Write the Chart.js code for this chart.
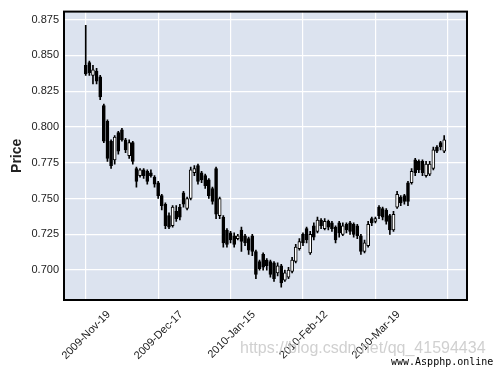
<!DOCTYPE html>
<html>
<head>
<meta charset="utf-8">
<script src="https://cdn.jsdelivr.net/npm/chart.js@4.4.1/dist/chart.umd.min.js"></script>
<style>
  html, body { margin: 0; padding: 0; background: #fff; }
  #wrap { position: relative; width: 493px; height: 369px; overflow: hidden; }
  canvas { display: block; }
  .wm1 { position: absolute; left: 240px; top: 339px; font: 16px "Liberation Sans", Arial, sans-serif; color: rgba(200,200,200,0.85); white-space: nowrap; }
  .wm2 { position: absolute; left: 391px; top: 356px; font: 10px "DejaVu Sans Mono", monospace; color: #000; white-space: nowrap; }
</style>
</head>
<body>
<div id="wrap">
  <canvas id="ohlcChart" width="493" height="369"></canvas>
  <div class="wm1">https://blog.csdn.net/qq_41594434</div>
  <div class="wm2">www.Aspphp.online</div>
</div>
<script>
// 값은 그림에서 눈으로 읽은 것 (bar index 0..99)
const opens = [
  0.843, 0.845, 0.836, 0.839, 0.835, 0.815, 0.804, 0.790, 0.777, 0.796,
  0.798, 0.791, 0.780, 0.789, 0.771, 0.766, 0.770, 0.769, 0.768, 0.765,
  0.761, 0.752, 0.746, 0.738, 0.731, 0.741, 0.744, 0.754, 0.743, 0.750,
  0.768, 0.773, 0.768, 0.766, 0.763, 0.757, 0.771, 0.738, 0.737, 0.728,
  0.726, 0.724, 0.722, 0.728, 0.724, 0.722, 0.724, 0.713, 0.706, 0.711,
  0.707, 0.706, 0.705, 0.698, 0.703, 0.693, 0.695, 0.699, 0.706, 0.715,
  0.725, 0.729, 0.712, 0.731, 0.727, 0.735, 0.729, 0.734, 0.733, 0.730,
  0.733, 0.725, 0.732, 0.733, 0.732, 0.731, 0.724, 0.713, 0.717, 0.736,
  0.734, 0.744, 0.743, 0.742, 0.738, 0.728, 0.744, 0.751, 0.752, 0.761,
  0.761, 0.777, 0.776, 0.776, 0.766, 0.767, 0.771, 0.786, 0.789, 0.783
];
const highs = [
  0.871, 0.846, 0.843, 0.841, 0.836, 0.816, 0.805, 0.791, 0.794, 0.797,
  0.799, 0.792, 0.791, 0.790, 0.772, 0.771, 0.771, 0.770, 0.770, 0.766,
  0.762, 0.753, 0.747, 0.740, 0.745, 0.745, 0.746, 0.755, 0.751, 0.772,
  0.773, 0.774, 0.769, 0.767, 0.764, 0.758, 0.772, 0.751, 0.738, 0.729,
  0.727, 0.726, 0.725, 0.730, 0.725, 0.723, 0.725, 0.714, 0.707, 0.712,
  0.708, 0.707, 0.706, 0.705, 0.704, 0.700, 0.702, 0.709, 0.718, 0.722,
  0.726, 0.730, 0.727, 0.733, 0.737, 0.736, 0.736, 0.735, 0.734, 0.731,
  0.734, 0.733, 0.733, 0.734, 0.733, 0.732, 0.725, 0.721, 0.734, 0.737,
  0.737, 0.745, 0.744, 0.743, 0.739, 0.741, 0.755, 0.752, 0.753, 0.762,
  0.771, 0.778, 0.777, 0.777, 0.776, 0.776, 0.786, 0.787, 0.790, 0.794
];
const lows = [
  0.836, 0.836, 0.830, 0.830, 0.819, 0.789, 0.776, 0.771, 0.774, 0.781,
  0.790, 0.782, 0.778, 0.774, 0.758, 0.765, 0.764, 0.760, 0.765, 0.758,
  0.750, 0.742, 0.729, 0.729, 0.730, 0.734, 0.735, 0.744, 0.742, 0.749,
  0.766, 0.760, 0.761, 0.757, 0.750, 0.746, 0.736, 0.736, 0.716, 0.716,
  0.719, 0.716, 0.721, 0.713, 0.717, 0.711, 0.710, 0.694, 0.700, 0.700,
  0.700, 0.695, 0.692, 0.696, 0.688, 0.692, 0.694, 0.698, 0.705, 0.714,
  0.717, 0.719, 0.711, 0.721, 0.726, 0.729, 0.728, 0.728, 0.727, 0.719,
  0.723, 0.724, 0.726, 0.725, 0.723, 0.722, 0.711, 0.712, 0.716, 0.731,
  0.733, 0.736, 0.735, 0.732, 0.725, 0.727, 0.743, 0.745, 0.746, 0.745,
  0.760, 0.766, 0.768, 0.766, 0.765, 0.766, 0.770, 0.782, 0.784, 0.782
];
const closes = [
  0.837, 0.838, 0.840, 0.832, 0.821, 0.790, 0.778, 0.773, 0.793, 0.783,
  0.791, 0.784, 0.789, 0.776, 0.762, 0.770, 0.766, 0.762, 0.766, 0.760,
  0.752, 0.745, 0.731, 0.730, 0.744, 0.736, 0.737, 0.746, 0.750, 0.770,
  0.771, 0.762, 0.763, 0.759, 0.752, 0.748, 0.739, 0.750, 0.719, 0.718,
  0.721, 0.718, 0.724, 0.720, 0.719, 0.714, 0.713, 0.697, 0.701, 0.702,
  0.703, 0.697, 0.694, 0.703, 0.691, 0.698, 0.700, 0.707, 0.716, 0.720,
  0.719, 0.721, 0.725, 0.723, 0.735, 0.731, 0.734, 0.730, 0.729, 0.721,
  0.726, 0.731, 0.728, 0.727, 0.725, 0.724, 0.713, 0.719, 0.732, 0.733,
  0.736, 0.738, 0.737, 0.734, 0.728, 0.739, 0.753, 0.747, 0.748, 0.748,
  0.769, 0.768, 0.770, 0.768, 0.774, 0.774, 0.784, 0.783, 0.786, 0.791
];

// x 눈금: 20개 간격
const tickIdx = [0, 20, 40, 60, 80, 100];
const tickLabels = ['2009-Nov-19', '2009-Dec-17', '2010-Jan-15', '2010-Feb-12', '2010-Mar-19', ''];
const yTicks = [0.700, 0.725, 0.750, 0.775, 0.800, 0.825, 0.850, 0.875];

const bodies = opens.map((o, i) => ({ x: i, y: [o, closes[i]] }));
const wicks = lows.map((l, i) => ({ x: i, y: [l, highs[i]] }));
const bodyFill = opens.map((o, i) => closes[i] >= o ? '#ffffff' : '#000000');

const plotFrame = {
  id: 'plotFrame',
  beforeDraw(chart) {
    const { ctx, chartArea: a } = chart;
    ctx.save();
    ctx.fillStyle = '#DCE3EF';
    ctx.fillRect(a.left, a.top, a.right - a.left, a.bottom - a.top);
    ctx.restore();
  },
  afterDraw(chart) {
    const { ctx, chartArea: a } = chart;
    ctx.save();
    ctx.strokeStyle = '#000';
    ctx.lineWidth = 2;
    ctx.strokeRect(a.left, a.top, a.right - a.left, a.bottom - a.top);
    ctx.restore();
  }
};

const canvas = document.getElementById('ohlcChart');
new Chart(canvas, {
  type: 'bar',
  data: {
    datasets: [
      {
        label: 'body',
        data: bodies,
        backgroundColor: bodyFill,
        borderColor: '#000',
        borderWidth: 1,
        borderSkipped: false,
        barThickness: 3,
        order: 0
      },
      {
        label: 'wick',
        data: wicks,
        backgroundColor: '#000',
        borderWidth: 0,
        barThickness: 1,
        order: 1
      }
    ]
  },
  options: {
    responsive: false,
    animation: false,
    datasets: { bar: { grouped: false } },
    layout: { padding: { top: 11, right: 26, left: 0, bottom: 0 } },
    plugins: { legend: { display: false }, tooltip: { enabled: false } },
    scales: {
      x: {
        type: 'linear',
        offset: false,
        min: -6,
        max: 105.3,
        afterBuildTicks: axis => { axis.ticks = tickIdx.map(v => ({ value: v })); },
        afterFit: axis => { axis.height = 69; },
        grid: { color: '#ffffff', lineWidth: 1.2, drawTicks: false, offset: false },
        border: { display: false },
        ticks: {
          autoSkip: false,
          minRotation: 45,
          maxRotation: 45,
          padding: 8,
          labelOffset: 23,
          color: '#222',
          font: { family: 'Liberation Sans, Arial, sans-serif', size: 11 },
          callback: v => tickLabels[tickIdx.indexOf(v)] || ''
        }
      },
      y: {
        min: 0.6791,
        max: 0.8806,
        afterBuildTicks: axis => { axis.ticks = yTicks.map(v => ({ value: v })); },
        afterFit: axis => { axis.width = 64; },
        grid: { color: '#ffffff', lineWidth: 1.2, drawTicks: false },
        border: { display: false },
        ticks: {
          padding: 5,
          color: '#222',
          font: { family: 'Liberation Sans, Arial, sans-serif', size: 11 },
          callback: v => v.toFixed(3)
        },
        title: {
          display: true,
          text: 'Price',
          color: '#222',
          padding: { top: 9, bottom: 0 },
          font: { family: 'Liberation Sans, Arial, sans-serif', size: 14, weight: 'bold' }
        }
      }
    }
  },
  plugins: [plotFrame]
});
</script>
</body>
</html>
